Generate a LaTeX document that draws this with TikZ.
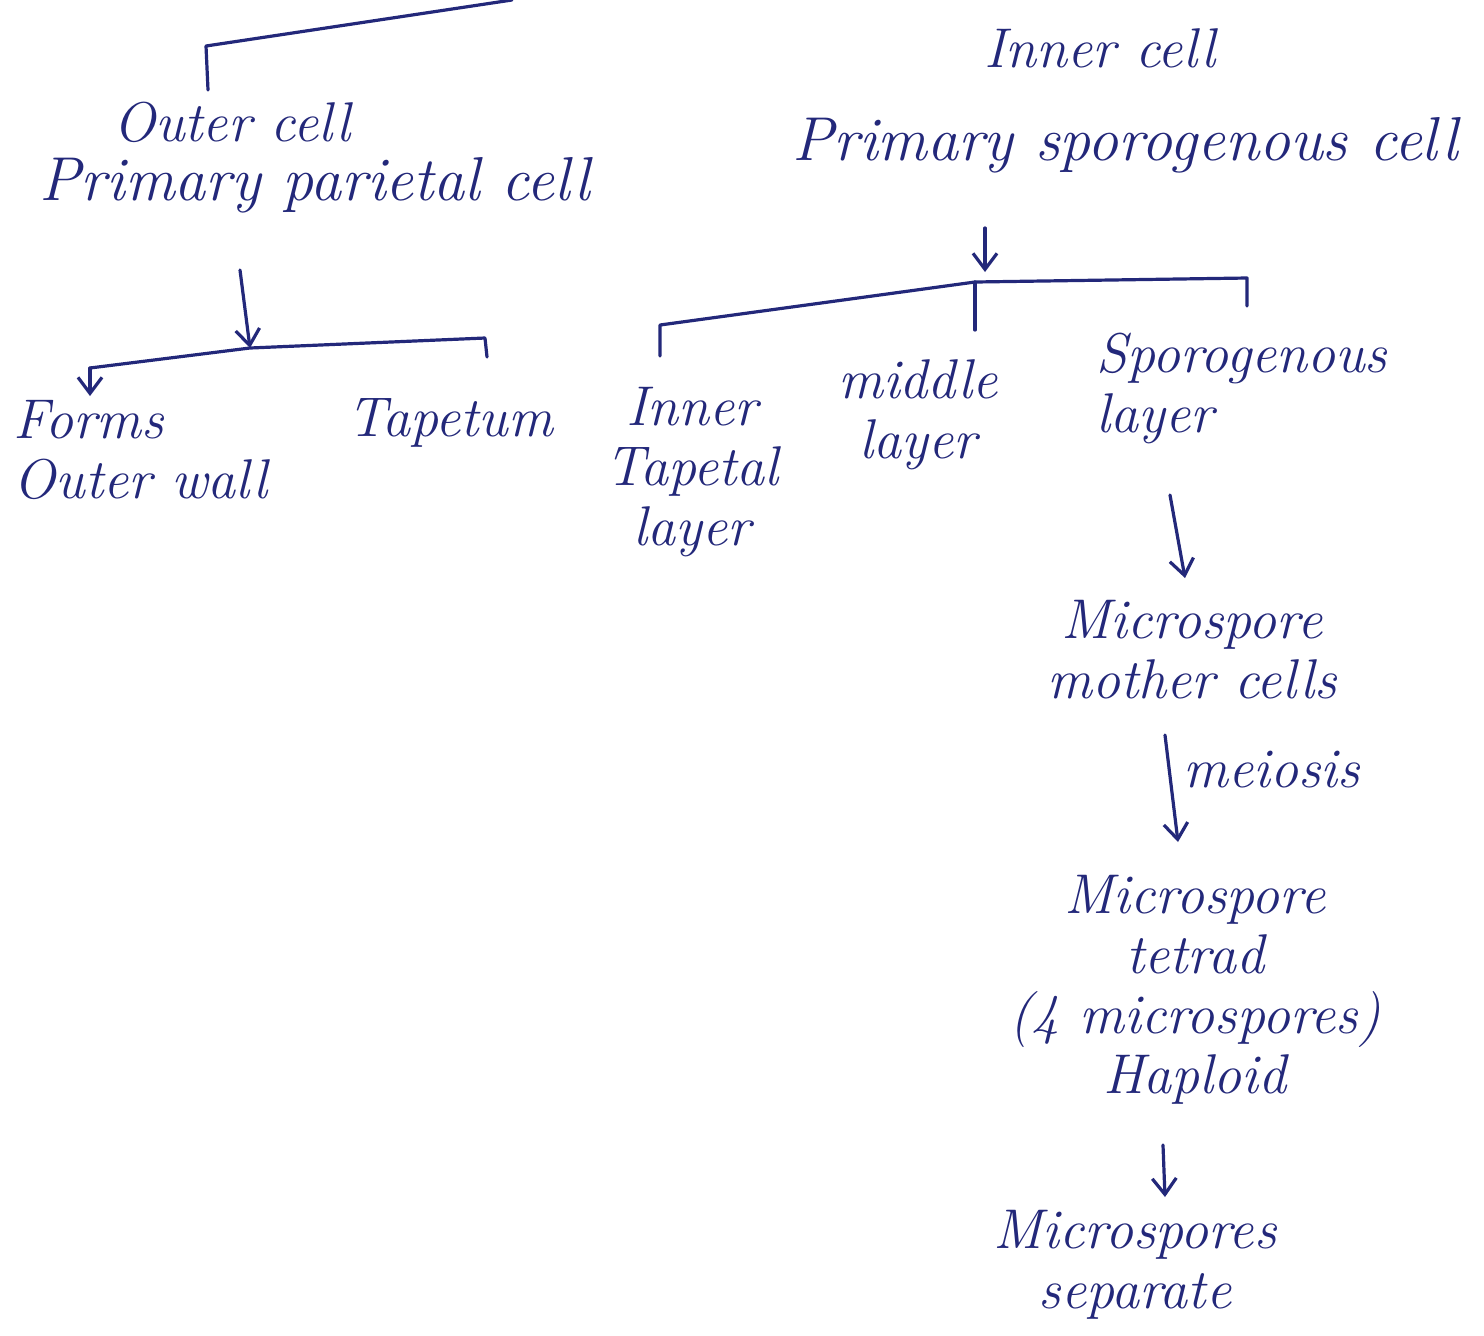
\documentclass[tikz,border=0pt]{standalone}
\usetikzlibrary{arrows.meta}
\definecolor{ink}{HTML}{23287A}
\begin{document}
\begin{tikzpicture}[x=0.5pt,y=-0.5pt, line width=1.6pt,
 lbl/.style={text=ink, align=center, font=\itshape\fontsize{28}{30}\selectfont, inner sep=0pt},
 big/.style={font=\itshape\fontsize{31}{32}\selectfont},
 conn/.style={draw=ink, line cap=round, line join=round},
 arr/.style={conn, -{Straight Barb[length=8pt,width=12pt]}}]
\useasboundingbox[fill=white] (0,0) rectangle (1484,1335);
% texts
\node[lbl] (outer) at (232,122) {Outer cell};
\node[lbl, big] (ppc) at (315,185) {Primary parietal cell};
\node[lbl] (inner) at (1100,48) {Inner cell};
\node[lbl, big] (psc) at (1125,145) {Primary sporogenous cell};
\node[lbl, anchor=west, align=left] (forms) at (12,450) {Forms\\Outer wall};
\node[lbl] (tap) at (450,423) {Tapetum};
\node[lbl] (itl) at (692,472) {Inner\\Tapetal\\layer};
\node[lbl] (mid) at (918,415) {middle\\layer};
\node[lbl, anchor=west, align=left] (spl) at (1095,388) {Sporogenous\\layer};
\node[lbl] (mmc) at (1192,650) {Microspore\\mother cells};
\node[lbl, anchor=west] (mei) at (1182,770) {meiosis};
\node[lbl] (tet) at (1195,990) {Microspore\\tetrad\\(4 microspores)\\Haploid};
\node[lbl] (sep) at (1135,1265) {Microspores\\separate};
% top connector
\coordinate (t1) at (208,90);
\coordinate (t2) at (206,46);
\coordinate (topend) at (512,0);
\draw[conn] (t1) -- (t2) -- (topend);
% left tree
\coordinate (la) at (240,270);
\coordinate (lj) at (250,348);
\coordinate (ll) at (90,368);
\coordinate (lld) at (90,396);
\coordinate (lr) at (485,338);
\coordinate (lrd) at (487,357);
\draw[arr] (la) -- (lj);
\draw[conn] (ll) -- (lj) -- (lr) -- (lrd);
\draw[arr] (ll) -- (lld);
% right tree
\coordinate (ra) at (985,228);
\coordinate (rj) at (985,272);
\coordinate (rl) at (660,325);
\coordinate (rld) at (660,356);
\coordinate (rm) at (975,282);
\coordinate (rmd) at (975,330);
\coordinate (rr) at (1247,278);
\coordinate (rrd) at (1247,306);
\draw[arr] (ra) -- (rj);
\draw[conn] (rld) -- (rl) -- (rm) -- (rr) -- (rrd);
\draw[conn] (rm) -- (rmd);
% vertical chain
\coordinate (a1s) at (1170,495);
\coordinate (a1e) at (1185,578);
\draw[arr] (a1s) -- (a1e);
\coordinate (a2s) at (1165,735);
\coordinate (a2e) at (1178,842);
\draw[arr] (a2s) -- (a2e);
\coordinate (a3s) at (1163,1145);
\coordinate (a3e) at (1165,1197);
\draw[arr] (a3s) -- (a3e);
\end{tikzpicture}
\end{document}
